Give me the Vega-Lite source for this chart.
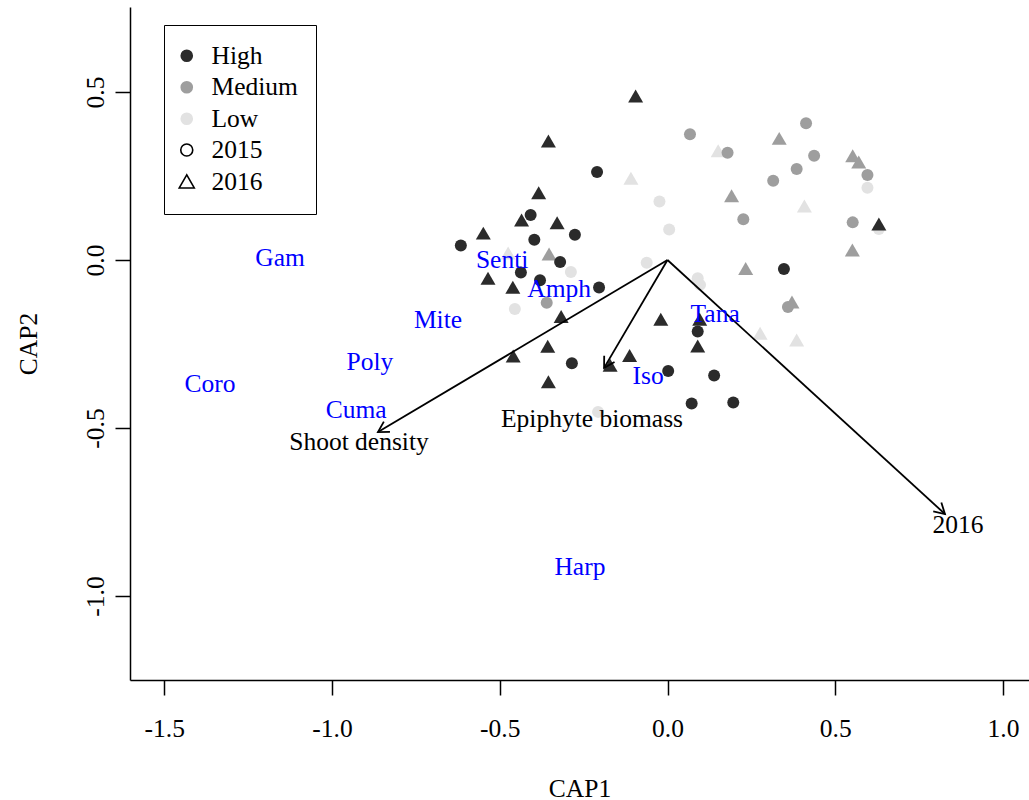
{
  "$schema": "https://vega.github.io/schema/vega-lite/v6.json",
  "width": 899,
  "height": 673,
  "autosize": {"type": "none"},
  "padding": {"left": 130, "top": 7, "right": 0, "bottom": 120},
  "background": "white",
  "config": {
    "view": {"stroke": null},
    "font": "Liberation Serif",
    "axis": {
      "domainColor": "black", "domainWidth": 1.5,
      "tickColor": "black", "tickWidth": 1.5, "tickSize": 15,
      "labelFont": "Liberation Serif", "labelFontSize": 25.5, "labelColor": "black",
      "titleFont": "Liberation Serif", "titleFontSize": 25.5, "titleFontWeight": "normal", "titleColor": "black",
      "grid": false, "labelFlush": false, "labelOverlap": false
    }
  },
  "datasets": {
    "pts": [
      {"x": -0.024, "y": 0.174, "level": "Low", "year": "2015"},
      {"x": 0.005, "y": 0.091, "level": "Low", "year": "2015"},
      {"x": 0.596, "y": 0.215, "level": "Low", "year": "2015"},
      {"x": -0.062, "y": -0.008, "level": "Low", "year": "2015"},
      {"x": -0.288, "y": -0.036, "level": "Low", "year": "2015"},
      {"x": -0.455, "y": -0.146, "level": "Low", "year": "2015"},
      {"x": 0.090, "y": -0.054, "level": "Low", "year": "2015"},
      {"x": 0.097, "y": -0.074, "level": "Low", "year": "2015"},
      {"x": 0.630, "y": 0.092, "level": "Low", "year": "2015"},
      {"x": -0.207, "y": -0.452, "level": "Low", "year": "2015"},
      {"x": 0.151, "y": 0.325, "level": "Low", "year": "2016"},
      {"x": -0.109, "y": 0.243, "level": "Low", "year": "2016"},
      {"x": 0.408, "y": 0.161, "level": "Low", "year": "2016"},
      {"x": -0.475, "y": 0.021, "level": "Low", "year": "2016"},
      {"x": 0.276, "y": -0.218, "level": "Low", "year": "2016"},
      {"x": 0.385, "y": -0.238, "level": "Low", "year": "2016"},
      {"x": 0.067, "y": 0.374, "level": "Medium", "year": "2015"},
      {"x": 0.179, "y": 0.319, "level": "Medium", "year": "2015"},
      {"x": 0.413, "y": 0.407, "level": "Medium", "year": "2015"},
      {"x": 0.437, "y": 0.310, "level": "Medium", "year": "2015"},
      {"x": 0.385, "y": 0.271, "level": "Medium", "year": "2015"},
      {"x": 0.315, "y": 0.236, "level": "Medium", "year": "2015"},
      {"x": 0.596, "y": 0.253, "level": "Medium", "year": "2015"},
      {"x": 0.226, "y": 0.121, "level": "Medium", "year": "2015"},
      {"x": 0.552, "y": 0.112, "level": "Medium", "year": "2015"},
      {"x": -0.360, "y": -0.127, "level": "Medium", "year": "2015"},
      {"x": 0.359, "y": -0.140, "level": "Medium", "year": "2015"},
      {"x": 0.333, "y": 0.362, "level": "Medium", "year": "2016"},
      {"x": 0.552, "y": 0.310, "level": "Medium", "year": "2016"},
      {"x": 0.570, "y": 0.292, "level": "Medium", "year": "2016"},
      {"x": 0.191, "y": 0.191, "level": "Medium", "year": "2016"},
      {"x": 0.551, "y": 0.030, "level": "Medium", "year": "2016"},
      {"x": 0.233, "y": -0.025, "level": "Medium", "year": "2016"},
      {"x": -0.353, "y": 0.018, "level": "Medium", "year": "2016"},
      {"x": 0.371, "y": -0.125, "level": "Medium", "year": "2016"},
      {"x": -0.210, "y": 0.262, "level": "High", "year": "2015"},
      {"x": -0.408, "y": 0.134, "level": "High", "year": "2015"},
      {"x": -0.397, "y": 0.060, "level": "High", "year": "2015"},
      {"x": -0.276, "y": 0.075, "level": "High", "year": "2015"},
      {"x": -0.616, "y": 0.043, "level": "High", "year": "2015"},
      {"x": -0.320, "y": -0.006, "level": "High", "year": "2015"},
      {"x": -0.437, "y": -0.037, "level": "High", "year": "2015"},
      {"x": -0.380, "y": -0.060, "level": "High", "year": "2015"},
      {"x": -0.204, "y": -0.082, "level": "High", "year": "2015"},
      {"x": 0.090, "y": -0.213, "level": "High", "year": "2015"},
      {"x": -0.285, "y": -0.307, "level": "High", "year": "2015"},
      {"x": 0.002, "y": -0.330, "level": "High", "year": "2015"},
      {"x": 0.139, "y": -0.344, "level": "High", "year": "2015"},
      {"x": 0.072, "y": -0.427, "level": "High", "year": "2015"},
      {"x": 0.196, "y": -0.424, "level": "High", "year": "2015"},
      {"x": 0.347, "y": -0.027, "level": "High", "year": "2015"},
      {"x": -0.095, "y": 0.488, "level": "High", "year": "2016"},
      {"x": -0.355, "y": 0.354, "level": "High", "year": "2016"},
      {"x": -0.384, "y": 0.200, "level": "High", "year": "2016"},
      {"x": -0.435, "y": 0.119, "level": "High", "year": "2016"},
      {"x": -0.329, "y": 0.111, "level": "High", "year": "2016"},
      {"x": -0.549, "y": 0.080, "level": "High", "year": "2016"},
      {"x": -0.535, "y": -0.054, "level": "High", "year": "2016"},
      {"x": -0.461, "y": -0.081, "level": "High", "year": "2016"},
      {"x": -0.317, "y": -0.168, "level": "High", "year": "2016"},
      {"x": -0.020, "y": -0.176, "level": "High", "year": "2016"},
      {"x": 0.096, "y": -0.176, "level": "High", "year": "2016"},
      {"x": 0.090, "y": -0.256, "level": "High", "year": "2016"},
      {"x": -0.460, "y": -0.286, "level": "High", "year": "2016"},
      {"x": -0.357, "y": -0.257, "level": "High", "year": "2016"},
      {"x": -0.171, "y": -0.313, "level": "High", "year": "2016"},
      {"x": -0.113, "y": -0.284, "level": "High", "year": "2016"},
      {"x": -0.355, "y": -0.362, "level": "High", "year": "2016"},
      {"x": 0.630, "y": 0.107, "level": "High", "year": "2016"}
    ],
    "arrows": [
      {"var": "Shoot density", "x": -0.863, "y": -0.512, "lx": -0.9195, "ly": -0.5417},
      {"var": "Epiphyte biomass", "x": -0.189, "y": -0.321, "lx": -0.225, "ly": -0.473},
      {"var": "2016", "x": 0.827, "y": -0.756, "lx": 0.866, "ly": -0.789}
    ],
    "species": [
      {"label": "Gam", "x": -1.155, "y": 0.006},
      {"label": "Senti", "x": -0.493, "y": 0.0},
      {"label": "Amph", "x": -0.323, "y": -0.086},
      {"label": "Mite", "x": -0.684, "y": -0.179},
      {"label": "Tana", "x": 0.142, "y": -0.161},
      {"label": "Poly", "x": -0.887, "y": -0.304},
      {"label": "Coro", "x": -1.364, "y": -0.369},
      {"label": "Iso", "x": -0.058, "y": -0.345},
      {"label": "Cuma", "x": -0.928, "y": -0.446},
      {"label": "Harp", "x": -0.261, "y": -0.914}
    ]
  },
  "layer": [
    {
      "data": {"name": "pts"},
      "mark": {"type": "point", "filled": true, "opacity": 1},
      "encoding": {
        "x": {
          "field": "x", "type": "quantitative",
          "scale": {"domain": [-1.6021, 1.0775], "nice": false, "zero": false},
          "axis": {
            "title": "CAP1", "values": [-1.5, -1, -0.5, 0, 0.5, 1],
            "labelExpr": "replace(format(datum.value, '.1f'), '\u2212', '-')",
            "labelPadding": 21, "titlePadding": 35
          }
        },
        "y": {
          "field": "y", "type": "quantitative",
          "scale": {"domain": [-1.25, 0.753], "nice": false, "zero": false},
          "axis": {
            "title": "CAP2", "values": [-1, -0.5, 0, 0.5],
            "labelExpr": "replace(format(datum.value, '.1f'), '\u2212', '-')",
            "labelAngle": 270, "labelAlign": "center", "labelBaseline": "alphabetic",
            "labelPadding": 12, "titlePadding": 42
          }
        },
        "color": {
          "field": "level", "type": "nominal",
          "scale": {"domain": ["High", "Medium", "Low", "2015", "2016"], "range": ["#2b2b2b", "#9e9e9e", "#e2e2e2", "#ffffff", "#ffffff"]},
          "legend": {
            "title": null, "orient": "none", "legendX": 34, "legendY": 18,
            "padding": 18, "strokeColor": "black",
            "labelFont": "Liberation Serif", "labelFontSize": 25.5, "labelColor": "black",
            "labelOffset": 12, "rowPadding": 4.5, "symbolSize": 160, "symbolOffset": -8,
            "symbolOpacity": 1, "symbolStrokeWidth": 0
          }
        },
        "shape": {
          "field": "year", "type": "nominal",
          "scale": {"domain": ["2015", "2016"], "range": ["circle", "triangle-up"]},
          "legend": {
            "title": null, "orient": "none", "legendX": 34, "legendY": 112.2,
            "padding": 18, "labelFont": "Liberation Serif", "labelFontSize": 25.5, "labelColor": "transparent",
            "labelOffset": 12, "rowPadding": 4.5, "symbolOffset": -8,
            "symbolFillColor": "transparent", "symbolStrokeColor": "black", "symbolStrokeWidth": 1.6, "symbolOpacity": 1
          }
        },
        "size": {
          "field": "year", "type": "ordinal",
          "scale": {"domain": ["2015", "2016"], "range": [144, 225]},
          "legend": {
            "title": null, "orient": "none", "legendX": 34, "legendY": 112.2,
            "padding": 18, "labelFont": "Liberation Serif", "labelFontSize": 25.5, "labelColor": "transparent",
            "labelOffset": 12, "rowPadding": 4.5, "symbolOffset": -8,
            "symbolFillColor": "transparent", "symbolStrokeColor": "black", "symbolStrokeWidth": 1.6, "symbolOpacity": 1
          }
        }
      }
    },
    {
      "mark": {"type": "rule", "strokeDash": [2.5, 3.2], "strokeWidth": 2, "color": "black"},
      "encoding": {"x": {"datum": 0}}
    },
    {
      "mark": {"type": "rule", "strokeDash": [2.5, 3.2], "strokeWidth": 2, "color": "black"},
      "encoding": {"y": {"datum": 0}}
    },
    {
      "mark": {"type": "rule", "strokeWidth": 1.5, "color": "black"},
      "encoding": {"y": {"datum": 0.753}}
    },
    {
      "data": {"name": "arrows"},
      "mark": {"type": "rule", "strokeWidth": 1.8, "color": "black"},
      "encoding": {
        "x": {"field": "x", "type": "quantitative"},
        "y": {"field": "y", "type": "quantitative"},
        "x2": {"datum": 0},
        "y2": {"datum": 0}
      }
    },
    {
      "data": {"name": "arrows"},
      "transform": [{"calculate": "atan2(-datum.y, datum.x) * 180 / PI", "as": "ang"}],
      "mark": {"type": "point", "shape": "M-0.866,-0.5L0,0L-0.866,0.5", "filled": false, "stroke": "black", "strokeWidth": 1.8, "size": 576, "opacity": 1},
      "encoding": {
        "x": {"field": "x", "type": "quantitative"},
        "y": {"field": "y", "type": "quantitative"},
        "angle": {"field": "ang", "type": "quantitative", "scale": null}
      }
    },
    {
      "data": {"name": "arrows"},
      "mark": {"type": "text", "font": "Liberation Serif", "fontSize": 25.5, "color": "black", "align": "center", "baseline": "middle"},
      "encoding": {
        "x": {"field": "lx", "type": "quantitative"},
        "y": {"field": "ly", "type": "quantitative"},
        "text": {"field": "var"}
      }
    },
    {
      "data": {"name": "species"},
      "mark": {"type": "text", "font": "Liberation Serif", "fontSize": 25.5, "color": "#0000FF", "align": "center", "baseline": "middle"},
      "encoding": {
        "x": {"field": "x", "type": "quantitative"},
        "y": {"field": "y", "type": "quantitative"},
        "text": {"field": "label"}
      }
    }
  ]
}
